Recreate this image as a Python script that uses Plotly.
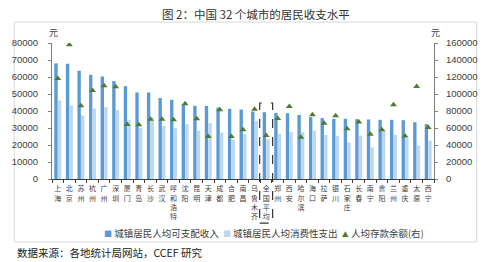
import plotly.graph_objects as go

cities = ["上海", "北京", "苏州", "杭州", "广州", "深圳", "厦门", "青岛", "长沙", "武汉",
          "呼和浩特", "沈阳", "昆明", "天津", "成都", "合肥", "南昌", "乌鲁木齐", "全国平均",
          "郑州", "西安", "哈尔滨", "海口", "拉萨", "银川", "石家庄", "长春", "南宁", "贵阳",
          "兰州", "重庆", "太原", "西宁"]

income = [68000, 67800, 63700, 61300, 60300, 57600, 54600, 50900, 50900, 47600,
          46600, 44000, 43000, 43000, 42000, 41300, 40900, 39700, 39300,
          38900, 38700, 37700, 36400, 35800, 35400, 35400, 35200, 35000, 34800,
          34800, 34600, 33400, 32300]

spending = [46200, 43200, 37300, 41500, 42300, 40500, 34600, 30000, 36200, 31200,
            29900, 32200, 28500, 32800, 27300, 23000, 26400, 34200, 23400,
            26400, 27500, 27500, 28500, 25900, 25400, 21400, 25500, 18500, 28900,
            25900, 24000, 19600, 22400]

deposit = [118300, 158000, 86100, 104100, 109700, 108500, 64000, 63700, 70400, 70400,
           69600, 88400, 70800, 49900, 81400, 49900, 57800, 82200, 51100,
           71100, 85300, 49200, 75500, 65700, 74300, 59000, 67200, 52700, 57800,
           87300, 50700, 108800, 60500]

left_ticks = list(range(0, 80001, 10000))
right_ticks = list(range(0, 160001, 20000))

DARK = "#5B9BD5"
LIGHT = "#BDD7EE"
GREEN = "#4E7B2F"
CJK = "Noto Sans CJK SC"
NUM = "Liberation Sans"

fig = go.Figure()
fig.add_bar(x=cities, y=income, name="城镇居民人均可支配收入", marker_color=DARK,
            marker_line_width=0, showlegend=False)
fig.add_bar(x=cities, y=spending, name="城镇居民人均消费性支出", marker_color=LIGHT,
            marker_line_width=0, showlegend=False)
fig.add_scatter(x=cities, y=deposit, name="人均存款余额(右)", mode="markers", yaxis="y2",
                marker=dict(symbol="triangle-up", size=6, color=GREEN), showlegend=False)

n = len(cities)
idx = cities.index("全国平均")
bx0 = (idx + 0.5 - 0.56) / n
bx1 = (idx + 0.5 + 0.56) / n

fig.update_layout(
    width=492, height=262, autosize=False,
    margin=dict(l=49, r=58, t=43, b=83, pad=0),
    paper_bgcolor="white", plot_bgcolor="white",
    barmode="group", bargap=0.38, bargroupgap=0.06,
    font=dict(family=CJK, color="#404040"),
    xaxis=dict(
        type="category", tickmode="array", tickvals=cities,
        ticktext=["<br>".join(c) for c in cities],
        tickangle=0, tickfont=dict(size=7, family=CJK, color="#404040"),
        showline=True, linecolor="#404040", linewidth=1,
        ticks="outside", tickson="boundaries", ticklen=3, tickcolor="#404040",
        showgrid=False, range=[-0.5, n - 0.5], ticklabelstandoff=3,
    ),
    yaxis=dict(
        range=[0, 80000], tickmode="array", tickvals=left_ticks,
        ticktext=[str(v) for v in left_ticks],
        tickfont=dict(size=9.5, family=NUM, color="#404040"),
        showline=True, linecolor="#7F7F7F", ticks="outside", ticklen=3,
        tickcolor="#7F7F7F", showgrid=False, zeroline=False, ticklabelstandoff=8,
    ),
    yaxis2=dict(
        range=[0, 160000], overlaying="y", side="right", tickmode="array",
        tickvals=right_ticks, ticktext=[str(v) for v in right_ticks],
        tickfont=dict(size=9.5, family=NUM, color="#404040"),
        showline=True, linecolor="#7F7F7F", ticks="outside", ticklen=3,
        tickcolor="#7F7F7F", showgrid=False, zeroline=False, ticklabelstandoff=6,
    ),
    shapes=[
        dict(type="rect", xref="paper", yref="paper", x0=-0.0987, x1=1.1117,
             y0=-0.463, y1=1.154, line=dict(color="#D9D9D9", width=1), layer="below"),
        dict(type="rect", xref="paper", yref="paper", x0=bx0, x1=bx1,
             y0=-0.324, y1=0.559, line=dict(color="#333333", width=1.2, dash="dash")),
    ],
    annotations=[
        dict(text="图 2：中国 32 个城市的居民收支水平", xref="paper", yref="paper",
             x=0.535, y=1.213, showarrow=False, xanchor="center", yanchor="middle",
             font=dict(size=11.5, family=CJK, color="#333333")),
        dict(text="元", xref="paper", yref="paper", x=0.003, y=1.074, showarrow=False,
             xanchor="center", yanchor="middle", font=dict(size=9, family=CJK)),
        dict(text="元", xref="paper", yref="paper", x=1.003, y=1.074, showarrow=False,
             xanchor="center", yanchor="middle", font=dict(size=9, family=CJK)),
        dict(text=(f"<span style='color:{DARK};font-size:8px'>■</span> 城镇居民人均可支配收入  "
                   f"<span style='color:{LIGHT};font-size:8px'>■</span> 城镇居民人均消费性支出  "
                   f"<span style='color:{GREEN};font-size:7px'>▲</span> 人均存款余额(右)"),
             xref="paper", yref="paper", x=0.5545, y=-0.397, showarrow=False,
             xanchor="center", yanchor="middle", font=dict(size=9.5, family=CJK, color="#404040")),
        dict(text="数据来源：各地统计局网站，CCEF 研究", xref="paper", yref="paper",
             x=-0.096, y=-0.537, showarrow=False, xanchor="left", yanchor="middle",
             font=dict(size=10.5, family=CJK, color="#222222")),
    ],
)

fig.write_html("out.html")
